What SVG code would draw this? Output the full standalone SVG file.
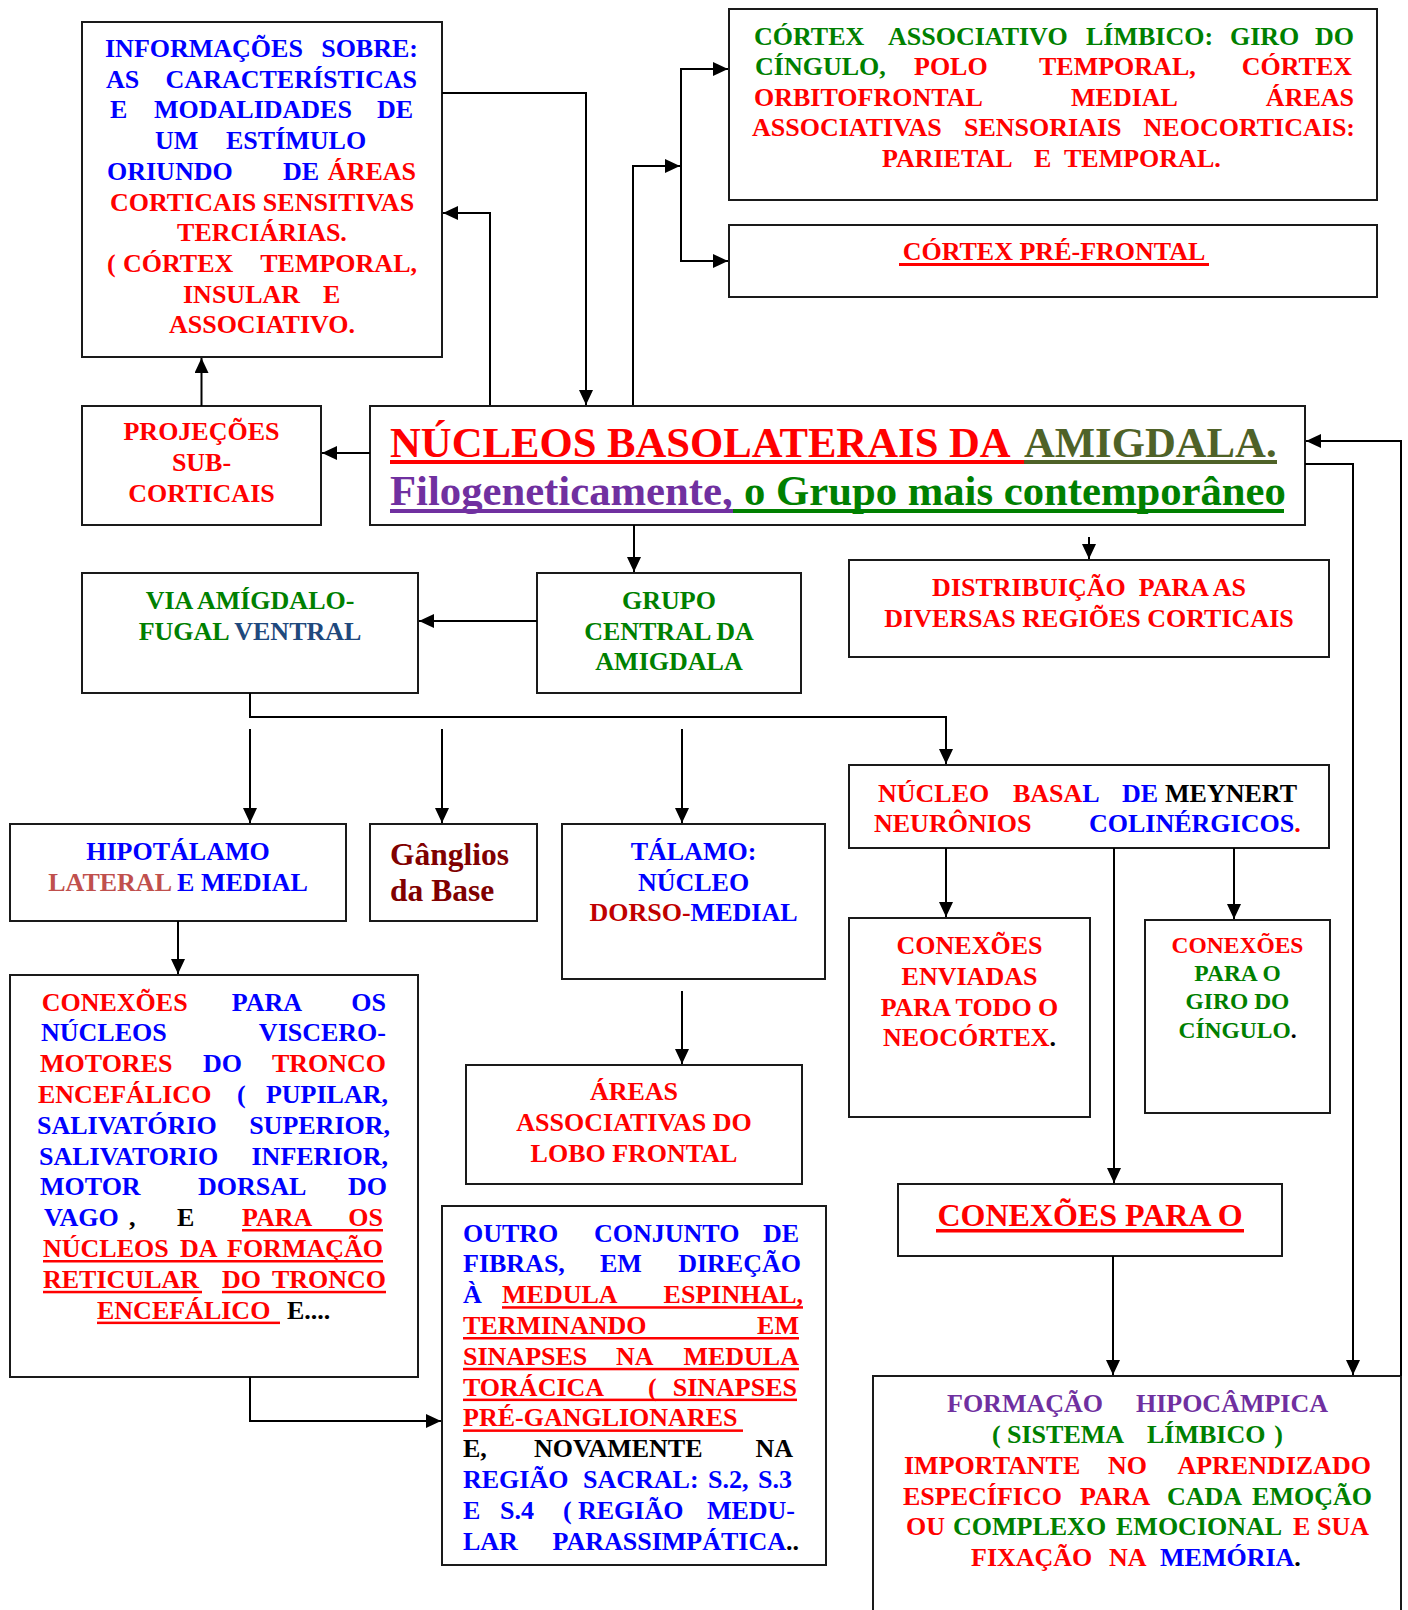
<svg xmlns="http://www.w3.org/2000/svg" width="1408" height="1610" viewBox="0 0 1408 1610">
<defs>
<style>
.t{font-family:"Liberation Serif","Times New Roman",serif;font-weight:bold;font-size:26px}
.c{text-anchor:middle}.e{text-anchor:end}
.r{fill:#FF0000}.b{fill:#0000FF}.g{fill:#008000}.k{fill:#000}.p{fill:#7030A0}
.ol{fill:#4F6228}.nv{fill:#1F497D}.lr{fill:#C0504D}.mr{fill:#800000}.dr{fill:#C00000}
.box{fill:#fff;stroke:#1a1a1a;stroke-width:2}
.ln{fill:none;stroke:#000;stroke-width:2;marker-end:url(#ah)}
.ul{stroke:none}
</style>
<marker id="ah" markerWidth="15" markerHeight="14" refX="15" refY="7" orient="auto" markerUnits="userSpaceOnUse">
<path d="M0,0 L15,7 L0,14 z" fill="#000"/>
</marker>
</defs>
<rect width="1408" height="1610" fill="#fff"/>

<!-- information about the stimulus -->
<g id="info">
<rect class="box" x="82" y="22" width="360" height="335"/>
<text class="t b" x="105" y="57">INFORMAÇÕES</text><text class="t b e" x="418" y="57">SOBRE:</text>
<text class="t b" x="106" y="87.7">AS</text><text class="t b e" x="417" y="87.7">CARACTERÍSTICAS</text>
<text class="t b" y="118.4"><tspan x="110">E</tspan><tspan x="154">MODALIDADES</tspan></text><text class="t b e" x="413" y="118.4">DE</text>
<text class="t b" y="149.1"><tspan x="155">UM</tspan><tspan x="226">ESTÍMULO</tspan></text>
<text class="t" y="179.8"><tspan class="b" x="107">ORIUNDO</tspan><tspan class="b" x="283">DE</tspan></text><text class="t r e" x="416" y="179.8">ÁREAS</text>
<text class="t r c" x="262" y="210.5">CORTICAIS SENSITIVAS</text>
<text class="t r c" x="262" y="241.2">TERCIÁRIAS.</text>
<text class="t r" y="271.9"><tspan x="107">(</tspan><tspan x="123">CÓRTEX</tspan></text><text class="t r e" x="417" y="271.9">TEMPORAL,</text>
<text class="t r" y="302.6"><tspan x="183">INSULAR</tspan><tspan x="323">E</tspan></text>
<text class="t r c" x="262" y="333.3">ASSOCIATIVO.</text>
</g>

<!-- limbic associative cortex -->
<g id="cortex-limbico">
<rect class="box" x="729" y="9" width="648" height="191"/>
<text class="t g" y="44.5"><tspan x="754">CÓRTEX</tspan><tspan x="888">ASSOCIATIVO</tspan><tspan x="1086">LÍMBICO:</tspan><tspan x="1230">GIRO</tspan></text><text class="t g e" x="1354" y="44.5">DO</text>
<text class="t" y="75"><tspan class="g" x="755">CÍNGULO,</tspan><tspan class="r" x="914">POLO</tspan><tspan class="r" x="1039">TEMPORAL,</tspan></text><text class="t r e" x="1352" y="75">CÓRTEX</text>
<text class="t r" y="105.5"><tspan x="754">ORBITOFRONTAL</tspan><tspan x="1071">MEDIAL</tspan></text><text class="t r e" x="1354" y="105.5">ÁREAS</text>
<text class="t r" y="136"><tspan x="752">ASSOCIATIVAS</tspan><tspan x="964">SENSORIAIS</tspan></text><text class="t r e" x="1355" y="136">NEOCORTICAIS:</text>
<text class="t r" y="166.5"><tspan x="882">PARIETAL</tspan><tspan x="1034">E</tspan><tspan x="1064">TEMPORAL.</tspan></text>
</g>

<!-- prefrontal cortex -->
<g id="cortex-prefrontal">
<rect class="box" x="729" y="225" width="648" height="72"/>
<text class="t r c" x="1054" y="260">CÓRTEX PRÉ-FRONTAL</text>
<rect class="ul" x="899" y="263" width="310" height="3" fill="#FF0000"/>
</g>

<!-- subcortical projections -->
<g id="projecoes">
<rect class="box" x="82" y="406" width="239" height="119"/>
<text class="t r c" x="201.5" y="440">PROJEÇÕES</text>
<text class="t r c" x="201.5" y="471">SUB-</text>
<text class="t r c" x="201.5" y="502">CORTICAIS</text>
</g>

<!-- basolateral nuclei (title box) -->
<g id="basolaterais">
<rect class="box" x="370" y="406" width="935" height="119"/>
<text class="t" y="457" style="font-size:42.7px"><tspan class="r" x="390">NÚCLEOS BASOLATERAIS DA</tspan><tspan class="ol" x="1024">AMIGDALA.</tspan></text>
<rect class="ul" x="390" y="460" width="634" height="4" fill="#FF0000"/>
<rect class="ul" x="1024" y="460" width="253" height="4" fill="#4F6228"/>
<text class="t" y="505" style="font-size:42.7px"><tspan class="p" x="390">Filogeneticamente,</tspan><tspan class="g" x="744">o Grupo mais contemporâneo</tspan></text>
<rect class="ul" x="390" y="509" width="343" height="4" fill="#7030A0"/>
<rect class="ul" x="733" y="509" width="551" height="4" fill="#008000"/>
</g>

<!-- ventral amygdalofugal pathway -->
<g id="via-ventral">
<rect class="box" x="82" y="573" width="336" height="120"/>
<text class="t g c" x="250" y="609">VIA AMÍGDALO-</text>
<text class="t c" x="250" y="640"><tspan class="g">FUGAL </tspan><tspan class="nv">VENTRAL</tspan></text>
</g>

<!-- central group -->
<g id="grupo-central">
<rect class="box" x="537" y="573" width="264" height="120"/>
<text class="t g c" x="669" y="609">GRUPO</text>
<text class="t g c" x="669" y="640">CENTRAL DA</text>
<text class="t g c" x="669" y="670">AMIGDALA</text>
</g>

<!-- cortical distribution -->
<g id="distribuicao">
<rect class="box" x="849" y="560" width="480" height="97"/>
<text class="t r c" x="1089" y="596" xml:space="preserve">DISTRIBUIÇÃO  PARA AS</text>
<text class="t r c" x="1089" y="627">DIVERSAS REGIÕES CORTICAIS</text>
</g>

<!-- basal nucleus of Meynert -->
<g id="meynert">
<rect class="box" x="849" y="765" width="480" height="83"/>
<text class="t" y="802"><tspan class="r" x="878">NÚCLEO</tspan><tspan class="r" x="1013">BASA</tspan><tspan class="b">L</tspan><tspan class="b" x="1122">DE</tspan><tspan class="k" x="1165">MEYNERT</tspan></text>
<text class="t" y="832"><tspan class="r" x="874">NEURÔNIOS</tspan><tspan class="b" x="1089">COLINÉRGICOS</tspan><tspan class="r">.</tspan></text>
</g>

<!-- hypothalamus -->
<g id="hipotalamo">
<rect class="box" x="10" y="824" width="336" height="97"/>
<text class="t b c" x="178" y="860">HIPOTÁLAMO</text>
<text class="t c" x="178" y="891"><tspan class="lr">LATERAL</tspan><tspan class="b"> E MEDIAL</tspan></text>
</g>

<!-- basal ganglia -->
<g id="ganglios">
<rect class="box" x="370" y="824" width="167" height="97"/>
<text class="t mr" x="390" y="865" style="font-size:31.5px">Gânglios</text>
<text class="t mr" x="390" y="901" style="font-size:31.5px">da Base</text>
</g>

<!-- thalamus -->
<g id="talamo">
<rect class="box" x="562" y="824" width="263" height="155"/>
<text class="t b c" x="693.5" y="860">TÁLAMO:</text>
<text class="t b c" x="693.5" y="891">NÚCLEO</text>
<text class="t c" x="693.5" y="921"><tspan class="dr">DORSO-</tspan><tspan class="b">MEDIAL</tspan></text>
</g>

<!-- connections to the whole neocortex -->
<g id="neocortex">
<rect class="box" x="849" y="918" width="241" height="199"/>
<text class="t r c" x="969.5" y="954">CONEXÕES</text>
<text class="t r c" x="969.5" y="985">ENVIADAS</text>
<text class="t r c" x="969.5" y="1015.5">PARA TODO O</text>
<text class="t c" x="969.5" y="1046"><tspan class="r">NEOCÓRTEX</tspan><tspan class="k">.</tspan></text>
</g>

<!-- connections to the cingulate gyrus -->
<g id="cingulo">
<rect class="box" x="1145" y="920" width="185" height="193"/>
<text class="t r c" x="1237.5" y="953" style="font-size:23.5px">CONEXÕES</text>
<text class="t g c" x="1237.5" y="981" style="font-size:23.5px">PARA O</text>
<text class="t g c" x="1237.5" y="1009" style="font-size:23.5px">GIRO DO</text>
<text class="t c" x="1237.5" y="1038" style="font-size:23.5px"><tspan class="g">CÍNGULO</tspan><tspan class="k">.</tspan></text>
</g>

<!-- brainstem visceromotor nuclei -->
<g id="visceromotores">
<rect class="box" x="10" y="975" width="408" height="402"/>
<text class="t" y="1010.5"><tspan class="r" x="41.7">CONEXÕES</tspan><tspan class="b" x="231.7">PARA</tspan></text><text class="t b e" x="386" y="1010.5">OS</text>
<text class="t b" x="41" y="1041.3">NÚCLEOS</text><text class="t b e" x="386" y="1041.3">VISCERO-</text>
<text class="t" y="1072.1"><tspan class="r" x="40">MOTORES</tspan><tspan class="b" x="203">DO</tspan></text><text class="t r e" x="386" y="1072.1">TRONCO</text>
<text class="t" y="1102.9"><tspan class="r" x="38">ENCEFÁLICO</tspan><tspan class="b" x="237">(</tspan></text><text class="t b e" x="388" y="1102.9">PUPILAR,</text>
<text class="t b" x="37" y="1133.7">SALIVATÓRIO</text><text class="t b e" x="390" y="1133.7">SUPERIOR,</text>
<text class="t b" x="39" y="1164.5">SALIVATORIO</text><text class="t b e" x="388" y="1164.5">INFERIOR,</text>
<text class="t b" y="1195.3"><tspan x="40">MOTOR</tspan><tspan x="198">DORSAL</tspan></text><text class="t b e" x="387" y="1195.3">DO</text>
<text class="t" y="1226.1"><tspan class="b" x="44">VAGO</tspan><tspan class="k" x="129">,</tspan><tspan class="k" x="177">E</tspan><tspan class="r" x="242">PARA</tspan></text><text class="t r e" x="383" y="1226.1">OS</text>
<rect class="ul" x="242" y="1229" width="141" height="2.5" fill="#FF0000"/>
<text class="t r" y="1256.9"><tspan x="43">NÚCLEOS</tspan><tspan x="180">DA</tspan></text><text class="t r e" x="383" y="1256.9">FORMAÇÃO</text>
<rect class="ul" x="43" y="1260" width="340" height="2.5" fill="#FF0000"/>
<text class="t r" y="1287.7"><tspan x="43">RETICULAR</tspan><tspan x="222">DO</tspan></text><text class="t r e" x="386" y="1287.7">TRONCO</text>
<rect class="ul" x="43" y="1290.8" width="159" height="2.5" fill="#FF0000"/>
<rect class="ul" x="222" y="1290.8" width="164" height="2.5" fill="#FF0000"/>
<text class="t" y="1318.5"><tspan class="r" x="97">ENCEFÁLICO</tspan><tspan class="k" x="287">E....</tspan></text>
<rect class="ul" x="97" y="1321.6" width="183" height="2.5" fill="#FF0000"/>
</g>

<!-- frontal lobe associative areas -->
<g id="lobo-frontal">
<rect class="box" x="466" y="1065" width="336" height="119"/>
<text class="t r c" x="634" y="1100">ÁREAS</text>
<text class="t r c" x="634" y="1131">ASSOCIATIVAS DO</text>
<text class="t r c" x="634" y="1162">LOBO FRONTAL</text>
</g>

<!-- connections to the hippocampal formation -->
<g id="conexoes-para-o">
<rect class="box" x="898" y="1184" width="384" height="72"/>
<text class="t r c" x="1090" y="1225.5" style="font-size:32px">CONEXÕES PARA O</text>
<rect class="ul" x="936" y="1229" width="308" height="3.5" fill="#FF0000"/>
</g>

<!-- fibres towards the spinal cord -->
<g id="medula">
<rect class="box" x="442" y="1206" width="384" height="359"/>
<text class="t b" y="1241.5"><tspan x="463">OUTRO</tspan><tspan x="594">CONJUNTO</tspan></text><text class="t b e" x="799" y="1241.5">DE</text>
<text class="t b" y="1272.3"><tspan x="463">FIBRAS,</tspan><tspan x="600">EM</tspan></text><text class="t b e" x="801" y="1272.3">DIREÇÃO</text>
<text class="t" y="1303.1"><tspan class="b" x="463">À</tspan><tspan class="r" x="502">MEDULA</tspan></text><text class="t r e" x="803" y="1303.1">ESPINHAL,</text>
<rect class="ul" x="502" y="1306.2" width="301" height="2.5" fill="#FF0000"/>
<text class="t r" x="463" y="1333.9">TERMINANDO</text><text class="t r e" x="799" y="1333.9">EM</text>
<rect class="ul" x="463" y="1337" width="336" height="2.5" fill="#FF0000"/>
<text class="t r" y="1364.7"><tspan x="463">SINAPSES</tspan><tspan x="616">NA</tspan></text><text class="t r e" x="799" y="1364.7">MEDULA</text>
<rect class="ul" x="463" y="1367.8" width="336" height="2.5" fill="#FF0000"/>
<text class="t r" y="1395.5"><tspan x="463">TORÁCICA</tspan><tspan x="648">(</tspan></text><text class="t r e" x="797" y="1395.5">SINAPSES</text>
<rect class="ul" x="463" y="1398.6" width="334" height="2.5" fill="#FF0000"/>
<text class="t r" x="463" y="1426.3">PRÉ-GANGLIONARES</text>
<rect class="ul" x="463" y="1429.4" width="280" height="2.5" fill="#FF0000"/>
<text class="t k" y="1457.1"><tspan x="463">E,</tspan><tspan x="534">NOVAMENTE</tspan></text><text class="t k e" x="793" y="1457.1">NA</text>
<text class="t b" y="1487.9"><tspan x="463">REGIÃO</tspan><tspan x="583">SACRAL:</tspan><tspan x="708">S.2,</tspan></text><text class="t b e" x="792" y="1487.9">S.3</text>
<text class="t b" y="1518.7"><tspan x="463">E</tspan><tspan x="500">S.4</tspan><tspan x="563">(</tspan><tspan x="578">REGIÃO</tspan></text><text class="t b e" x="795" y="1518.7">MEDU-</text>
<text class="t" y="1549.5"><tspan class="b" x="463">LAR</tspan></text><text class="t e" x="799" y="1549.5"><tspan class="b">PARASSIMPÁTICA</tspan><tspan class="k">..</tspan></text>
</g>

<!-- hippocampal formation -->
<g id="hipocampo">
<rect class="box" x="873" y="1376" width="528" height="250"/>
<text class="t p" x="947" y="1412">FORMAÇÃO</text><text class="t p e" x="1328" y="1412">HIPOCÂMPICA</text>
<text class="t g" y="1443"><tspan x="992">(</tspan><tspan x="1007">SISTEMA</tspan><tspan x="1147">LÍMBICO</tspan></text><text class="t g e" x="1283" y="1443">)</text>
<text class="t r" y="1474"><tspan x="904">IMPORTANTE</tspan><tspan x="1108">NO</tspan></text><text class="t r e" x="1371" y="1474">APRENDIZADO</text>
<text class="t" y="1504.5"><tspan class="r" x="903">ESPECÍFICO</tspan><tspan class="r" x="1080">PARA</tspan><tspan class="g" x="1167">CADA</tspan></text><text class="t g e" x="1372" y="1504.5">EMOÇÃO</text>
<text class="t" y="1535"><tspan class="r" x="906">OU</tspan><tspan class="g" x="953">COMPLEXO</tspan><tspan class="g" x="1116">EMOCIONAL</tspan><tspan class="r" x="1293">E</tspan></text><text class="t r e" x="1369" y="1535">SUA</text>
<text class="t" y="1566"><tspan class="r" x="971">FIXAÇÃO</tspan><tspan class="r" x="1109">NA</tspan><tspan class="b" x="1160">MEMÓRIA</tspan><tspan class="k">.</tspan></text>
</g>

<!-- connectors -->
<g id="connectors">
<path class="ln" d="M442,93 H586 V405"/>
<path class="ln" d="M490,405 V213 H443"/>
<path class="ln" d="M633,405 V166 H680"/>
<path class="ln" d="M681,166 V69 H728"/>
<path class="ln" d="M681,166 V261 H728"/>
<path class="ln" d="M370,453 H322"/>
<path class="ln" d="M201.5,406 V358"/>
<path class="ln" d="M634,525 V572"/>
<path class="ln" d="M1089,537 V559"/>
<path class="ln" d="M1305,464 H1353 V1375"/>
<path class="ln" d="M1401,1376 V441 H1306"/>
<path class="ln" d="M537,621 H419"/>
<path class="ln" d="M250,693 V717 H946 V764"/>
<path class="ln" d="M250,729 V823"/>
<path class="ln" d="M442,729 V823"/>
<path class="ln" d="M682,729 V823"/>
<path class="ln" d="M178,921 V974"/>
<path class="ln" d="M250,1377 V1421 H441"/>
<path class="ln" d="M682,991 V1064"/>
<path class="ln" d="M946,848 V917"/>
<path class="ln" d="M1234,848 V919"/>
<path class="ln" d="M1114,848 V1183"/>
<path class="ln" d="M1113,1256 V1375"/>
</g>
</svg>
